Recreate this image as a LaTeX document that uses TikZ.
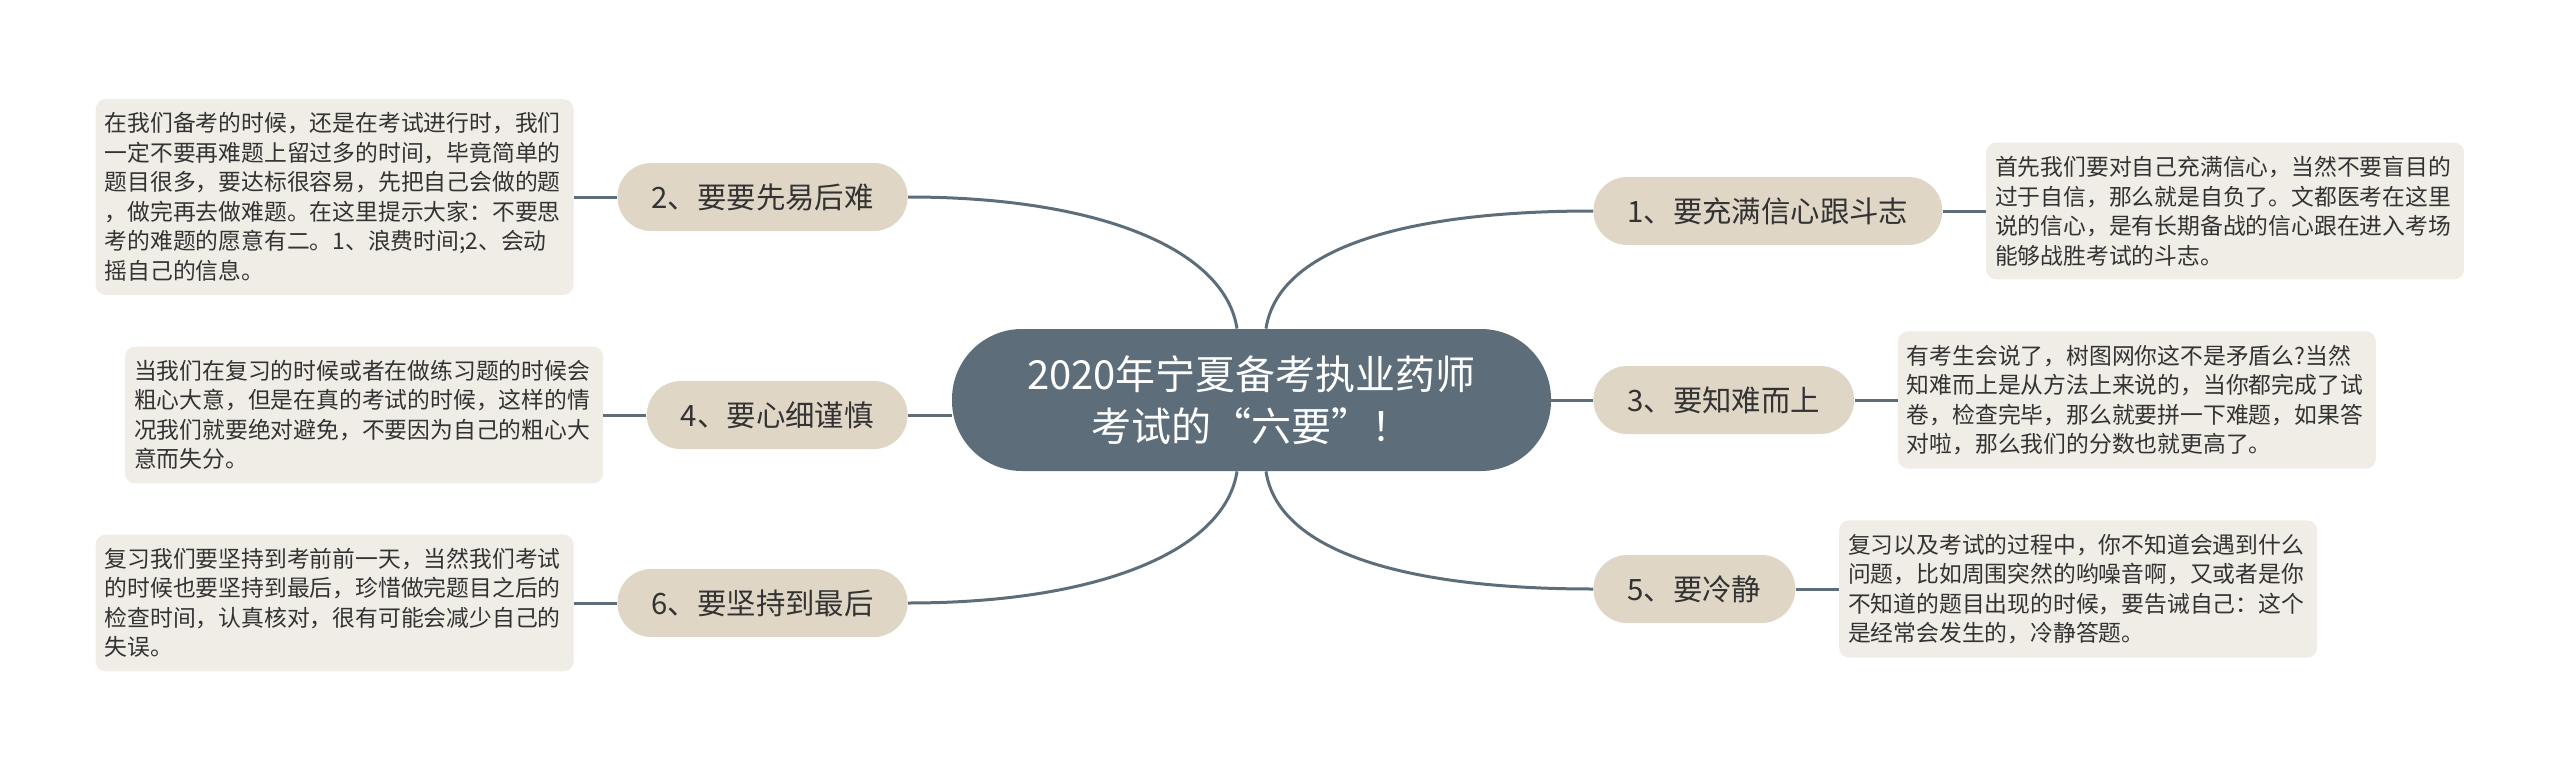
\documentclass[tikz,border=0pt]{standalone}
\usepackage{fontspec}
\setmainfont{Noto Sans CJK SC}
\usepackage{xcolor}
\usepackage{tikz}
\usetikzlibrary{positioning}

\definecolor{slate}{HTML}{5D6E7A}
\definecolor{sand}{HTML}{DFD6C6}
\definecolor{paper}{HTML}{F0EDE6}
\definecolor{ink}{HTML}{333333}

\tikzset{
  hub/.style={fill=slate, text=white, rounded corners=35pt, minimum width=299.5pt, minimum height=71pt,
    align=center, font=\fontsize{20pt}{26pt}\selectfont},
  branch/.style={fill=sand, text=ink, rounded corners=16.9pt, minimum height=34pt, inner xsep=17pt,
    font=\fontsize{14.7pt}{17pt}\selectfont},
  note/.style={fill=paper, text=ink, rounded corners=5pt, text width=230pt, inner xsep=4.5pt, inner ysep=6.75pt,
    align=left, font=\fontsize{11.4pt}{14.75pt}\selectfont},
  link/.style={draw=slate, line width=1.5pt},
}

\begin{document}
\begin{tikzpicture}[x=0.5pt, y=-0.5pt, node distance=21.5pt]
  \useasboundingbox (0,0) rectangle (2560,771);

  % centre
  \node[hub] (hub) at (1251.5,400) {2020年宁夏备考执业药师\\考试的“六要”！};

  % left branches
  \node[branch, anchor=east] (n2) at (908,197) {2、要要先易后难};
  \node[branch, anchor=east] (n4) at (908,415) {4、要心细谨慎};
  \node[branch, anchor=east] (n6) at (908,603) {6、要坚持到最后};

  % right branches
  \node[branch, anchor=west] (n1) at (1593,211) {1、要充满信心跟斗志};
  \node[branch, anchor=west] (n3) at (1593,400) {3、要知难而上};
  \node[branch, anchor=west] (n5) at (1593,589) {5、要冷静};

  % notes
  \node[note, left=of n2] (b2) {在我们备考的时候，还是在考试进行时，我们\\一定不要再难题上留过多的时间，毕竟简单的\\题目很多，要达标很容易，先把自己会做的题\\，做完再去做难题。在这里提示大家：不要思\\考的难题的愿意有二。1、浪费时间;2、会动\\摇自己的信息。};
  \node[note, left=of n4] (b4) {当我们在复习的时候或者在做练习题的时候会\\粗心大意，但是在真的考试的时候，这样的情\\况我们就要绝对避免，不要因为自己的粗心大\\意而失分。};
  \node[note, left=of n6] (b6) {复习我们要坚持到考前前一天，当然我们考试\\的时候也要坚持到最后，珍惜做完题目之后的\\检查时间，认真核对，很有可能会减少自己的\\失误。};
  \node[note, right=of n1] (b1) {首先我们要对自己充满信心，当然不要盲目的\\过于自信，那么就是自负了。文都医考在这里\\说的信心，是有长期备战的信心跟在进入考场\\能够战胜考试的斗志。};
  \node[note, right=of n3] (b3) {有考生会说了，树图网你这不是矛盾么?当然\\知难而上是从方法上来说的，当你都完成了试\\卷，检查完毕，那么就要拼一下难题，如果答\\对啦，那么我们的分数也就更高了。};
  \node[note, right=of n5] (b5) {复习以及考试的过程中，你不知道会遇到什么\\问题，比如周围突然的哟噪音啊，又或者是你\\不知道的题目出现的时候，要告诫自己：这个\\是经常会发生的，冷静答题。};

  % connectors
  \draw[link] ([xshift=-7.25pt]hub.north) .. controls +(-12,-79) and +(192,0) .. (n2.east);
  \draw[link] ([xshift=7.25pt]hub.north) .. controls +(12,-79) and +(-192,0) .. (n1.west);
  \draw[link] ([xshift=-7.25pt]hub.south) .. controls +(-12,79) and +(192,0) .. (n6.east);
  \draw[link] ([xshift=7.25pt]hub.south) .. controls +(12,79) and +(-192,0) .. (n5.west);
  \draw[link] (n4.east) -- (n4.east -| hub.west);
  \draw[link] (hub.east) -- (n3.west);

  \draw[link] (n2.west) -- (b2.east);
  \draw[link] (n4.west) -- (b4.east);
  \draw[link] (n6.west) -- (b6.east);
  \draw[link] (n1.east) -- (b1.west);
  \draw[link] (n3.east) -- (b3.west);
  \draw[link] (n5.east) -- (b5.west);
\end{tikzpicture}
\end{document}
